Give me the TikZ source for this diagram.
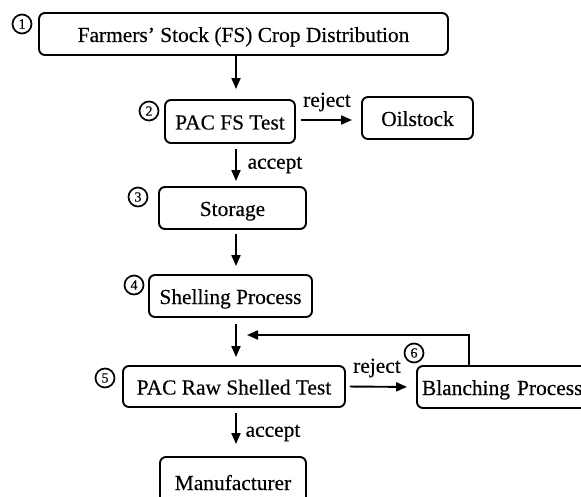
\documentclass[tikz,border=0pt]{standalone}
\usepackage{fontspec}
\setmainfont[FakeBold=0.35]{Liberation Serif}
\usetikzlibrary{arrows.meta}
\tikzset{
  boxnode/.style={draw, line width=1.9pt, rounded corners=6pt, inner sep=0pt,
    font=\fontsize{21.4}{24}\selectfont, text height=18pt, text depth=2pt},
  numnode/.style={draw, circle, line width=1.7pt, minimum size=19pt, inner sep=0pt,
    font=\fontsize{14}{15}\selectfont},
  lbl/.style={inner sep=0pt, font=\fontsize{21.4}{24}\selectfont},
  arr/.style={line width=1.9pt, -{Triangle[length=11pt,width=9pt]}},
}
\begin{document}
\begin{tikzpicture}[x=1pt,y=-1pt]
\clip (0,0) rectangle (581,497);
\fill[white] (0,0) rectangle (581,497);
% boxes
\node[boxnode, minimum width=409pt, minimum height=42pt] (b1) at (243.5,34) {Farmers' Stock (FS) Crop Distribution};
\node[boxnode, minimum width=130pt, minimum height=43pt] (b2) at (230,121.5) {PAC FS Test};
\node[boxnode, minimum width=111pt, minimum height=42pt] (oil) at (417.5,118) {Oilstock};
\node[boxnode, minimum width=147pt, minimum height=42pt] (b3) at (232.5,208) {Storage};
\node[boxnode, minimum width=163pt, minimum height=42pt] (b4) at (230.5,296) {Shelling Process};
\node[boxnode, minimum width=222pt, minimum height=41pt] (b5) at (234,386.5) {PAC Raw Shelled Test};
\node[boxnode, minimum width=200pt, minimum height=42pt, text width=190pt, align=left] (b6) at (517,387) {Blanching Process};
\node[boxnode, minimum width=146pt, minimum height=50pt] (man) at (233,482) {Manufacturer};
% numbers
\node[numnode] (n1) at (22,24) {1};
\node[numnode] (n2) at (149,111) {2};
\node[numnode] (n3) at (138,197) {3};
\node[numnode] (n4) at (134,285) {4};
\node[numnode] (n5) at (105,378) {5};
\node[numnode] (n6) at (414,353) {6};
% column
\coordinate (m) at (236,0);
\coordinate (fb) at (469,335);
% connectors
\draw[arr, shorten >=10pt] (b1.south -| m) -- (b2.north -| m);
\draw[arr, shorten <=5pt, shorten >=5pt] (b2.south -| m) -- (b3.north -| m);
\draw[arr, shorten <=4pt, shorten >=8pt] (b3.south -| m) -- (b4.north -| m);
\draw[arr, shorten <=6pt, shorten >=8pt] (b4.south -| m) -- (b5.north -| m);
\draw[arr, shorten <=5pt, shorten >=12pt] (b5.south -| m) -- (man.north -| m);
\draw[arr, shorten <=5pt, shorten >=9pt] (b2.east |- 0,120) -- (oil.west |- 0,120);
\draw[arr, shorten <=4pt, shorten >=9pt] (b5.east) -- (b6.west);
\draw[arr] (b6.north -| fb) -- (fb) -- ([xshift=11pt]fb -| m);
% labels
\node[lbl] (r1) at (327,102) {reject};
\node[lbl] (r2) at (377,368) {reject};
\node[lbl] (a1) at (275,165) {accept};
\node[lbl] (a2) at (273,433) {accept};
\end{tikzpicture}
\end{document}
